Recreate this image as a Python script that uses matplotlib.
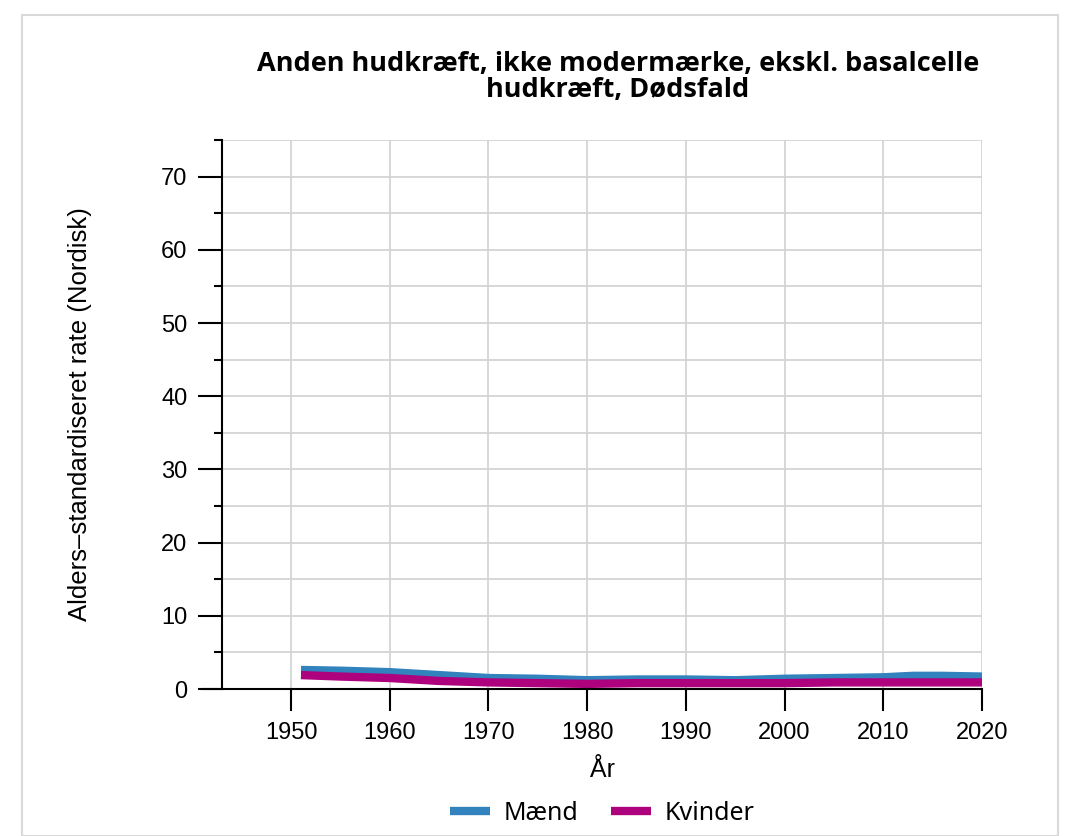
import matplotlib
matplotlib.use("Agg")
import matplotlib.pyplot as plt
from matplotlib.patches import Rectangle
from matplotlib.ticker import MultipleLocator

# data
years = [1951, 1955, 1960, 1965, 1970, 1975, 1980, 1985, 1990, 1995, 2000, 2005, 2010, 2013, 2016, 2020]
maend = [2.6, 2.5, 2.3, 1.9, 1.5, 1.4, 1.2, 1.3, 1.3, 1.2, 1.4, 1.5, 1.6, 1.8, 1.8, 1.7]
kvinder = [1.9, 1.7, 1.5, 1.1, 0.9, 0.8, 0.7, 0.8, 0.8, 0.8, 0.8, 0.9, 0.9, 0.9, 0.9, 0.9]
xticks = [1950, 1960, 1970, 1980, 1990, 2000, 2010, 2020]

W, H = 1066, 836
fig = plt.figure(figsize=(W / 100, H / 100), dpi=100)

# card border
fig.patches.append(Rectangle((22 / W, 0), (1058 - 22) / W, (H - 15) / H, transform=fig.transFigure,
                             fill=False, edgecolor="#d9d9d9", linewidth=1.5))

ax = fig.add_axes([222 / W, 1 - 689 / H, (982 - 222) / W, (689 - 140) / H])
ax.plot(years, maend, color="#3182bd", lw=6, solid_capstyle="butt", label="Mænd")
ax.plot(years, kvinder, color="#ae017e", lw=6, solid_capstyle="butt", label="Kvinder")

ax.set_xlim(1943, 2020)
ax.set_ylim(0, 75)
ax.set_xticks(xticks)
ax.yaxis.set_major_locator(MultipleLocator(10))
ax.yaxis.set_minor_locator(MultipleLocator(5))
ax.grid(True, which="both", color="#d4d4d4", lw=1.3)
ax.set_axisbelow(True)
for s in ["top", "right", "bottom"]:
    ax.spines[s].set_visible(False)
ax.spines["left"].set_linewidth(1.5)
ax.axhline(0, xmin=-0.025, xmax=1, color="black", lw=1.5, clip_on=False)

ax.tick_params(axis="x", length=16, width=1.5, pad=8, labelsize=17)
ax.tick_params(axis="y", which="major", length=17, width=1.5, pad=8, labelsize=17)
ax.tick_params(axis="y", which="minor", length=6, width=1.5)
for lab in ax.get_xticklabels() + ax.get_yticklabels():
    lab.set_family("Liberation Sans")

ax.set_xlabel("År", fontsize=18, family="Liberation Sans")
ax.xaxis.set_label_coords(0.5, -0.126)
ax.set_ylabel("Alders\u2013standardiseret rate (Nordisk)", fontsize=18.5, family="Liberation Sans")
ax.yaxis.set_label_coords(-0.187, 0.5)
ax.yaxis.label.set_va("center")

fig.text(618 / W, 1 - 77 / H, "Anden hudkræft, ikke modermærke, ekskl. basalcelle\nhudkræft, Dødsfald",
         ha="center", va="center", fontsize=19.5, fontweight="bold", family="Open Sans", linespacing=0.95)

fig.legend(loc="center", bbox_to_anchor=(602 / W, 1 - 813 / H), ncol=2, frameon=False,
           handlelength=1.6, columnspacing=1.3, handletextpad=0.55,
           prop={"family": "Noto Sans", "size": 18})

fig.savefig("out.png", dpi=100)
